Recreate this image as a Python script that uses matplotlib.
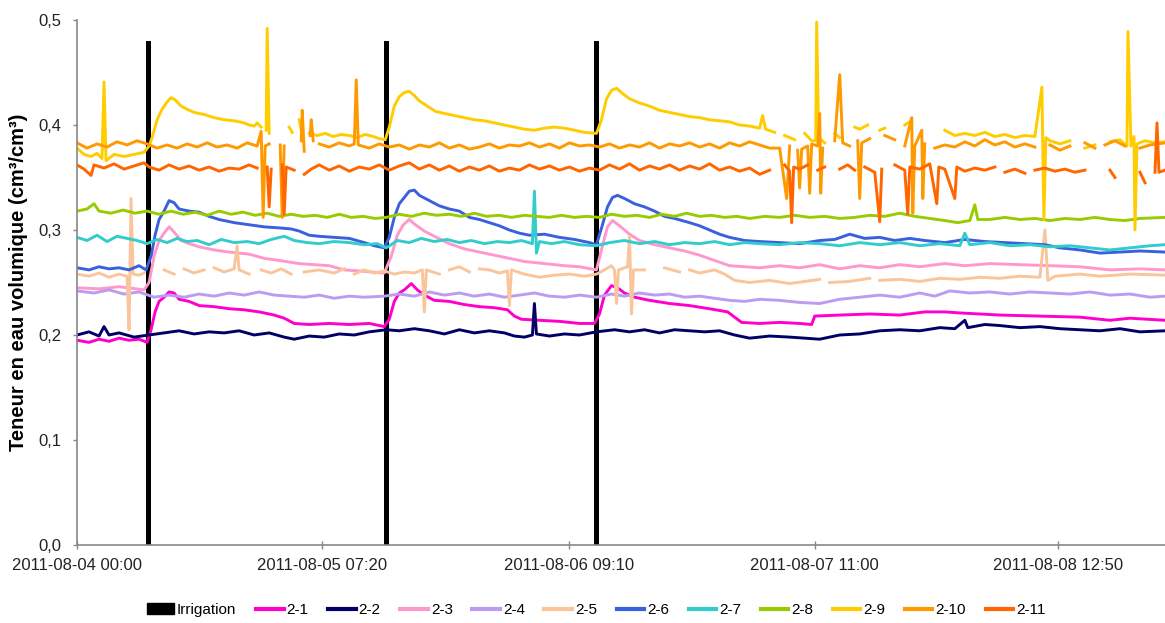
import numpy as np
import matplotlib
matplotlib.use("Agg")
import matplotlib.pyplot as plt
from matplotlib.patches import Patch
from matplotlib.lines import Line2D

nan = np.nan

# x = measurement index (category axis), y = volumetric water content
tick_pos = [78, 323, 570, 815, 1058]
tick_labels = ["2011-08-04 00:00", "2011-08-05 07:20", "2011-08-06 09:10",
               "2011-08-07 11:00", "2011-08-08 12:50"]
irrig_x = [149, 387, 597]
irrig_h = [0.48, 0.48, 0.48]

s2_1 = [(78,.195),(90,.193),(100,.196),(110,.194),(120,.197),(130,.195),(140,.196),(148,.193),
        (152,.205),(156,.222),(160,.232),(165,.236),(170,.241),(175,.240),(180,.234),(190,.232),
        (200,.228),(215,.227),(230,.225),(245,.224),(260,.222),(275,.219),(285,.216),(295,.211),
        (310,.210),(330,.211),(350,.210),(370,.211),(385,.208),(390,.215),(395,.232),(400,.240),
        (405,.243),(412,.249),(418,.243),(425,.238),(435,.233),(450,.232),(465,.229),(480,.227),
        (495,.226),(508,.224),(515,.218),(522,.215),(540,.214),(560,.213),(580,.211),(595,.211),
        (600,.220),(605,.238),(612,.247),(618,.245),(625,.240),(635,.236),(650,.233),(670,.230),
        (690,.228),(710,.225),(728,.222),(735,.217),(742,.212),(760,.211),(780,.212),(800,.211),
        (812,.210),(815,.218),(840,.219),(870,.220),(900,.219),(925,.222),(945,.222),(960,.221),
        (980,.220),(1000,.219),(1040,.218),(1080,.217),(1110,.214),(1130,.216),(1165,.214)]

s2_2 = [(78,.200),(90,.203),(100,.199),(105,.208),(110,.200),(120,.202),(135,.198),(150,.200),
        (165,.202),(180,.204),(195,.201),(210,.203),(225,.202),(240,.204),(255,.200),(270,.202),
        (285,.198),(295,.196),(310,.199),(325,.198),(340,.201),(355,.200),(370,.203),(387,.205),
        (400,.204),(415,.206),(430,.204),(445,.201),(460,.205),(475,.202),(490,.204),(505,.202),
        (515,.199),(525,.198),(533,.200),(535,.230),(537,.201),(550,.199),(565,.201),(580,.200),
        (597,.203),(615,.205),(630,.203),(645,.205),(660,.202),(675,.205),(690,.204),(705,.203),
        (720,.204),(735,.200),(750,.197),(770,.199),(790,.198),(805,.197),(820,.196),(840,.200),
        (860,.201),(880,.204),(900,.205),(920,.204),(940,.207),(955,.206),(965,.214),(968,.207),
        (985,.210),(1000,.209),(1020,.207),(1040,.208),(1060,.206),(1080,.205),(1100,.204),
        (1120,.206),(1140,.203),(1165,.204)]

s2_3 = [(78,.245),(100,.244),(120,.246),(145,.243),(150,.250),(155,.275),(160,.290),(165,.297),
        (170,.303),(175,.298),(182,.290),(190,.287),(200,.284),(215,.281),(230,.279),(250,.277),
        (265,.273),(280,.271),(300,.268),(315,.267),(330,.266),(345,.262),(360,.261),(385,.259),
        (392,.275),(398,.295),(404,.305),(410,.310),(416,.305),(425,.299),(435,.294),(450,.287),
        (465,.282),(480,.279),(495,.276),(510,.273),(525,.270),(545,.268),(565,.266),(580,.265),
        (597,.262),(603,.285),(608,.303),(613,.309),(620,.304),(630,.296),(640,.290),(655,.286),
        (670,.283),(685,.280),(700,.276),(715,.271),(730,.266),(745,.265),(760,.264),(780,.266),
        (800,.264),(820,.267),(840,.263),(860,.266),(880,.264),(900,.267),(920,.265),(945,.268),
        (965,.266),(990,.268),(1020,.267),(1050,.266),(1080,.265),(1110,.262),(1140,.263),(1165,.262)]

s2_4 = [(78,.242),(95,.240),(110,.243),(125,.239),(140,.241),(155,.236),(170,.238),(185,.236),
        (200,.239),(215,.237),(230,.240),(245,.238),(260,.241),(275,.238),(290,.237),(305,.236),
        (320,.238),(335,.235),(350,.237),(365,.236),(385,.237),(400,.239),(415,.237),(430,.241),
        (445,.238),(460,.240),(475,.237),(490,.239),(505,.236),(520,.238),(535,.240),(550,.237),
        (565,.236),(580,.238),(597,.236),(612,.239),(625,.237),(640,.240),(655,.238),(670,.239),
        (685,.236),(700,.237),(715,.235),(730,.233),(745,.232),(760,.234),(780,.233),(800,.231),
        (820,.230),(840,.234),(860,.236),(880,.238),(900,.236),(920,.240),(935,.237),(950,.242),
        (970,.240),(990,.241),(1010,.239),(1030,.241),(1050,.240),(1070,.239),(1090,.241),
        (1110,.238),(1130,.239),(1150,.236),(1165,.237)]

s2_5 = [(78,.258),(90,.256),(100,.259),(110,.255),(120,.258),(128,.256),(130,.205),(132,.330),
        (134,.258),(140,.257),(145,.259),(146,nan),(165,.262),(175,.258),(178,nan),(185,.263),
        (195,.259),(205,.262),(208,nan),(215,.264),(225,.260),(235,.263),(238,.285),(240,.262),
        (250,.258),(254,nan),(262,.262),(272,.259),(282,.263),(292,.258),(296,nan),(305,.260),
        (320,.262),(335,.259),(345,.263),(348,nan),(355,.258),(365,.262),(375,.259),(385,.261),
        (395,.258),(405,.260),(415,.259),(423,.262),(425,.222),(427,.262),(440,.258),(444,nan),
        (450,.262),(460,.265),(470,.260),(474,nan),(480,.263),(490,.262),(500,.259),(508,.261),
        (510,.228),(512,.262),(525,.258),(540,.255),(555,.257),(570,.258),(585,.256),(597,.258),
        (605,.262),(612,.266),(615,.262),(617,.230),(619,.262),(628,.265),(630,.294),(632,.220),
        (634,.262),(645,.262),(650,nan),(665,.264),(680,.260),(684,nan),(690,.262),(700,.259),
        (715,.262),(725,.258),(735,.252),(750,.250),(770,.252),(790,.249),(805,.251),(820,.253),
        (824,nan),(830,.250),(850,.251),(870,.254),(874,nan),(880,.252),(900,.253),(920,.251),
        (940,.254),(960,.253),(980,.255),(1000,.254),(1020,.256),(1040,.255),(1045,.300),
        (1048,.252),(1055,.256),(1080,.258),(1100,.256),(1130,.258),(1165,.257)]

s2_6 = [(78,.264),(90,.262),(100,.265),(110,.263),(120,.264),(130,.262),(140,.266),(147,.262),
        (152,.275),(156,.295),(160,.310),(165,.318),(170,.328),(175,.326),(180,.320),(190,.318),
        (200,.317),(210,.313),(220,.310),(235,.307),(250,.305),(265,.303),(280,.302),(292,.301),
        (300,.299),(310,.295),(320,.294),(335,.293),(350,.292),(365,.288),(375,.285),(385,.283),
        (390,.293),(395,.312),(400,.325),(405,.331),(410,.337),(415,.338),(420,.333),(430,.328),
        (440,.323),(450,.320),(460,.318),(470,.312),(480,.310),(490,.307),(500,.304),(510,.300),
        (520,.297),(530,.295),(545,.296),(560,.293),(575,.291),(590,.288),(597,.286),(603,.305),
        (608,.322),(613,.331),(618,.333),(625,.330),(635,.325),(645,.322),(655,.318),(665,.313),
        (675,.311),(690,.307),(700,.304),(710,.300),(720,.296),(730,.293),(745,.290),(760,.289),
        (780,.288),(800,.287),(820,.290),(835,.291),(850,.296),(865,.292),(880,.293),(895,.290),
        (910,.292),(925,.290),(945,.288),(965,.291),(985,.289),(1005,.288),(1025,.287),(1045,.286),
        (1060,.283),(1080,.281),(1100,.278),(1120,.279),(1140,.280),(1165,.279)]

s2_7 = [(78,.293),(88,.290),(98,.295),(108,.289),(118,.294),(128,.292),(138,.290),(148,.287),
        (158,.291),(168,.288),(178,.292),(188,.289),(198,.290),(210,.286),(222,.291),(235,.288),
        (248,.289),(260,.287),(272,.291),(285,.294),(295,.290),(308,.288),(320,.287),(335,.289),
        (350,.288),(365,.286),(378,.287),(387,.283),(398,.290),(410,.288),(422,.292),(435,.289),
        (448,.291),(460,.288),(472,.290),(485,.287),(498,.289),(510,.288),(522,.290),(533,.287),
        (535,.337),(537,.278),(540,.289),(552,.287),(565,.289),(580,.286),(597,.285),(610,.288),
        (625,.290),(640,.287),(655,.289),(670,.286),(685,.288),(700,.287),(715,.289),(730,.286),
        (745,.288),(760,.287),(780,.286),(800,.288),(820,.287),(840,.285),(860,.288),(880,.286),
        (900,.288),(920,.285),(940,.287),(960,.285),(965,.297),(970,.286),(990,.288),(1010,.285),
        (1030,.286),(1050,.284),(1070,.285),(1090,.283),(1110,.281),(1130,.283),(1150,.285),(1165,.286)]

s2_8 = [(78,.318),(88,.320),(95,.325),(100,.318),(112,.316),(124,.319),(136,.316),(148,.318),
        (160,.315),(172,.318),(184,.315),(196,.317),(208,.314),(220,.318),(232,.315),(244,.317),
        (256,.314),(268,.316),(280,.313),(292,.315),(304,.313),(316,.314),(328,.312),(340,.315),
        (352,.312),(364,.313),(376,.311),(387,.312),(400,.315),(412,.313),(425,.316),(437,.314),
        (450,.315),(462,.313),(475,.316),(487,.313),(500,.314),(512,.312),(525,.314),(537,.313),
        (550,.312),(562,.314),(575,.312),(587,.313),(600,.312),(612,.315),(625,.313),(637,.314),
        (650,.312),(662,.315),(675,.313),(687,.316),(700,.313),(712,.314),(725,.312),(737,.313),
        (750,.311),(765,.313),(780,.312),(795,.314),(810,.312),(825,.313),(840,.311),(855,.312),
        (870,.314),(885,.313),(900,.316),(915,.313),(930,.311),(945,.309),(958,.307),(970,.309),
        (975,.324),(978,.310),(990,.310),(1005,.312),(1020,.310),(1035,.311),(1050,.309),
        (1065,.311),(1080,.310),(1095,.312),(1110,.310),(1125,.309),(1140,.311),(1165,.312)]

s2_9 = [(78,.378),(85,.372),(92,.370),(98,.373),(103,.368),(105,.441),(107,.366),(115,.372),
        (125,.370),(135,.372),(145,.374),(150,.380),(153,.388),(158,.405),(163,.415),(168,.422),
        (172,.426),(176,.424),(182,.418),(188,.415),(195,.412),(205,.410),(215,.407),(225,.405),
        (235,.404),(245,.402),(250,.400),(255,.399),(258,.402),(262,.398),(264,nan),(267,.395),
        (268,.492),(270,.392),(272,nan),(290,.398),(293,.393),(295,nan),(300,.405),(302,.395),
        (305,nan),(310,.392),(318,.390),(326,.392),(334,.389),(342,.391),(350,.390),(358,.388),
        (366,.391),(374,.389),(380,.387),(386,.386),(390,.398),(395,.418),(400,.427),(405,.431),
        (410,.432),(415,.428),(420,.423),(428,.418),(436,.413),(445,.411),(455,.409),(465,.407),
        (475,.405),(485,.404),(495,.402),(505,.400),(515,.398),(525,.396),(535,.395),(545,.397),
        (555,.398),(565,.397),(575,.395),(585,.393),(597,.392),(602,.405),(607,.425),(612,.433),
        (617,.435),(623,.430),(630,.425),(640,.421),(650,.418),(660,.414),(670,.412),(680,.410),
        (690,.408),(700,.407),(710,.405),(720,.404),(730,.403),(740,.400),(750,.399),(760,.397),
        (763,.409),(766,.396),(775,.393),(778,nan),(785,.390),(795,.386),(798,nan),(805,.392),
        (812,.385),(816,.385),(817,.498),(819,.388),(825,.383),(828,nan),(835,.392),(840,.388),
        (843,nan),(855,.398),(860,.396),(868,.400),(871,nan),(880,.395),(885,.397),(888,nan),
        (905,.400),(910,.403),(913,nan),(945,.395),(955,.390),(965,.392),(975,.390),(985,.393),
        (995,.389),(1005,.391),(1015,.388),(1025,.390),(1035,.389),(1042,.436),(1044,.310),
        (1046,.388),(1050,.385),(1060,.382),(1070,.385),(1073,nan),(1085,.378),(1095,.381),
        (1098,nan),(1110,.384),(1120,.386),(1127,.380),(1128,.489),(1131,.380),(1134,.389),
        (1135,.300),(1137,.382),(1145,.385),(1155,.383),(1165,.384)]

s2_10 = [(78,.383),(88,.378),(98,.382),(108,.379),(118,.384),(128,.381),(138,.385),(148,.382),
         (158,.378),(168,.381),(178,.378),(188,.382),(198,.379),(208,.383),(218,.379),(228,.381),
         (238,.378),(248,.383),(258,.380),(262,.394),(264,.312),(266,.380),(270,.382),(274,nan),
         (281,.381),(283,.312),(285,.380),(288,nan),(302,.385),(303,.414),(305,.375),(308,nan),
         (311,.390),(312,.405),(314,.385),(316,nan),(320,.382),(330,.379),(340,.383),(350,.380),
         (355,.382),(357,.443),(359,.381),(370,.378),(380,.382),(390,.379),(400,.381),(410,.377),
         (420,.381),(430,.379),(440,.383),(450,.378),(460,.381),(470,.377),(480,.379),(490,.382),
         (500,.378),(510,.381),(520,.380),(530,.383),(540,.379),(550,.382),(560,.378),(570,.383),
         (580,.380),(590,.381),(600,.379),(610,.382),(620,.378),(630,.381),(640,.379),(650,.383),
         (660,.378),(670,.382),(680,.380),(690,.383),(700,.379),(710,.382),(720,.378),(730,.383),
         (740,.380),(750,.384),(760,.381),(770,.378),(780,.378),(787,.330),(790,.380),(793,nan),
         (798,.376),(800,.340),(802,.377),(808,.380),(810,.335),(812,.382),(818,.380),(820,.411),
         (821,.335),(823,.378),(826,nan),(835,.385),(840,.448),(843,.383),(850,.380),(853,nan),
         (858,.385),(860,.330),(862,.383),(870,.387),(873,nan),(885,.390),(895,.386),(898,nan),
         (905,.380),(912,.407),(913,.316),(915,.380),(922,.395),(923,.330),(925,.382),(928,nan),
         (935,.378),(945,.381),(955,.379),(965,.384),(975,.380),(985,.386),(995,.381),(1005,.384),
         (1015,.379),(1025,.382),(1035,.379),(1038,nan),(1050,.381),(1060,.376),(1070,.380),
         (1073,nan),(1085,.383),(1095,.378),(1098,nan),(1105,.381),(1115,.385),(1125,.380),
         (1128,nan),(1140,.378),(1150,.381),(1165,.383)]

s2_11 = [(78,.362),(85,.358),(92,.352),(95,.362),(105,.359),(115,.363),(125,.358),(135,.361),
         (145,.364),(150,.360),(160,.357),(170,.362),(180,.358),(190,.361),(200,.357),(210,.360),
         (220,.356),(230,.359),(240,.358),(250,.362),(258,.359),(261,nan),(268,.360),(270,.322),
         (272,.358),(275,nan),(283,.362),(285,.315),(287,.360),(295,.357),(298,nan),(305,.353),
         (312,.358),(320,.362),(330,.357),(340,.361),(350,.356),(360,.360),(370,.358),(380,.362),
         (390,.357),(400,.361),(410,.364),(420,.358),(430,.362),(440,.357),(450,.361),(460,.356),
         (470,.360),(480,.357),(490,.361),(500,.356),(510,.359),(520,.357),(530,.362),(540,.358),
         (550,.361),(560,.357),(570,.360),(580,.356),(590,.359),(600,.357),(610,.362),(620,.358),
         (630,.363),(640,.357),(650,.361),(660,.358),(670,.362),(680,.357),(690,.361),(700,.358),
         (710,.363),(720,.357),(730,.360),(740,.356),(750,.359),(760,.353),(770,.357),(773,nan),
         (785,.362),(790,.356),(792,.307),(794,.360),(800,.358),(808,.362),(811,nan),(818,.357),
         (825,.360),(828,nan),(840,.358),(848,.362),(855,.357),(858,nan),(865,.360),(875,.355),
         (880,.308),(882,.358),(885,nan),(895,.362),(905,.357),(908,.315),(910,.360),(920,.358),
         (930,.363),(937,.325),(939,.360),(945,.358),(955,.330),(957,.360),(965,.356),(975,.359),
         (985,.357),(995,.360),(998,nan),(1005,.355),(1015,.358),(1025,.354),(1028,nan),(1035,.357),
         (1045,.359),(1055,.356),(1065,.358),(1075,.355),(1085,.357),(1088,nan),(1110,.357),
         (1115,.350),(1118,nan),(1140,.355),(1145,.345),(1148,nan),(1155,.355),(1157,.402),
         (1159,.355),(1165,.357)]

series_names = ["2-1", "2-2", "2-3", "2-4", "2-5", "2-6", "2-7", "2-8", "2-9", "2-10", "2-11"]
series_data = [s2_1, s2_2, s2_3, s2_4, s2_5, s2_6, s2_7, s2_8, s2_9, s2_10, s2_11]
series_colors = ["#FF00CC", "#000066", "#FF99CC", "#BB9CF0", "#FAC59A", "#3A60DE",
                 "#33CCCC", "#99CC00", "#FFCC00", "#FF9900", "#FF6600"]

plt.rcParams["font.family"] = ["Liberation Sans", "DejaVu Sans"]
fig = plt.figure(figsize=(11.65, 6.23), dpi=100)
ax = fig.add_axes([77 / 1165, 1 - 545 / 623, (1165 - 77) / 1165, 525 / 623])

ax.bar(irrig_x, irrig_h, width=5, color="black", zorder=1)
for data, col in zip(series_data, series_colors):
    xs = [p[0] for p in data]
    ys = [p[1] for p in data]
    ax.plot(xs, ys, color=col, lw=2.1, zorder=2, solid_joinstyle="round")

ax.set_xlim(78, 1165)
ax.set_ylim(0, 0.5)
ax.set_yticks([0, 0.1, 0.2, 0.3, 0.4, 0.5])
ax.set_yticklabels(["0,0", "0,1", "0,2", "0,3", "0,4", "0,5"])
ax.set_xticks(tick_pos)
ax.set_xticklabels(tick_labels)
ax.tick_params(axis="both", labelsize=12, labelcolor="#222222", color="#888888",
               width=1, direction="out")
ax.tick_params(axis="y", length=3, pad=8.5)
ax.tick_params(axis="x", direction="inout", length=6, pad=6)
for side in ["top", "right"]:
    ax.spines[side].set_visible(False)
for side in ["left", "bottom"]:
    ax.spines[side].set_color("#888888")
    ax.spines[side].set_linewidth(1.2)
ax.set_ylabel("Teneur en eau volumique (cm³/cm³)", fontsize=14.5, fontweight="bold")
ax.yaxis.set_label_coords(-0.045, 0.5)

handles = [Patch(facecolor="black", edgecolor="black")]
labels = ["Irrigation"]
for name, col in zip(series_names, series_colors):
    handles.append(Line2D([0], [0], color=col, lw=3))
    labels.append(name)
fig.legend(handles, labels, loc="center", bbox_to_anchor=(596 / 1165, 1 - 610 / 623),
           ncol=12, frameon=False, fontsize=11, handlelength=1.8, handleheight=0.7,
           handletextpad=0.2, columnspacing=1.28)

fig.savefig("out.png", dpi=100)
